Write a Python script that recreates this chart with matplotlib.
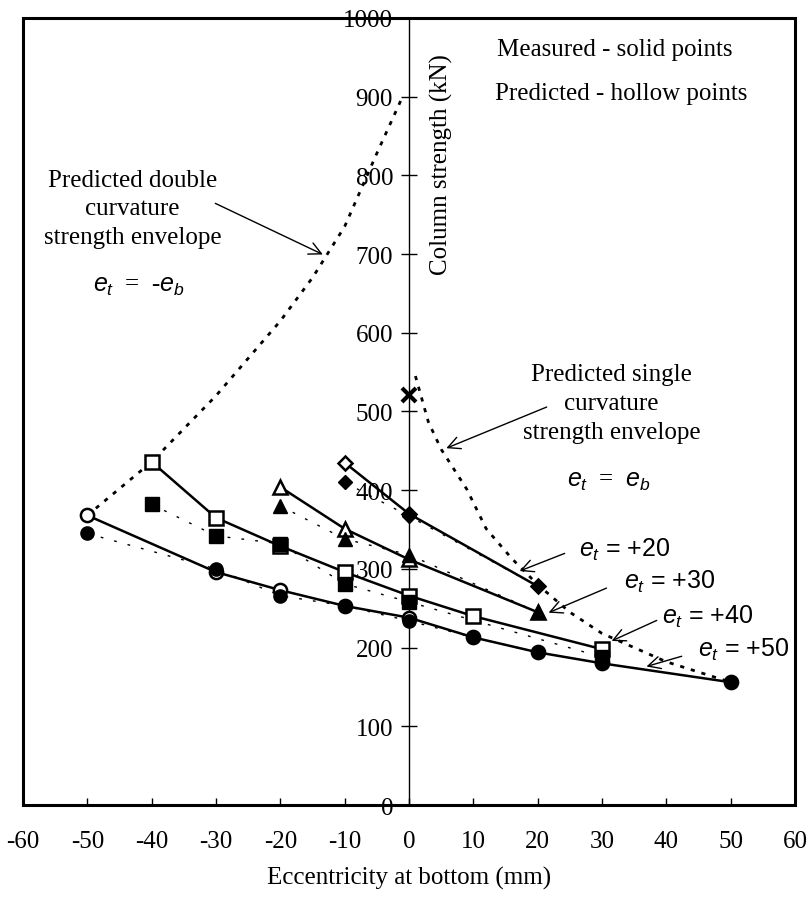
import matplotlib
matplotlib.use("Agg")
import matplotlib.pyplot as plt
from matplotlib.patches import Rectangle

plt.rcParams["font.family"] = ["Liberation Serif", "DejaVu Serif"]
plt.rcParams["mathtext.fontset"] = "custom"
plt.rcParams["mathtext.it"] = "Liberation Sans:italic"
plt.rcParams["mathtext.rm"] = "Liberation Sans"

# e_t = +50 (circles)
c_pred_x = [-50, -30, -20, -10, 0, 10, 20, 30, 50]
c_pred_y = [368, 296, 273, 253, 238, 213, 194, 180, 156]
c_meas_x = [-50, -30, -20, -10, 0, 10, 20, 30, 50]
c_meas_y = [345, 300, 266, 253, 234, 213, 194, 180, 156]

# e_t = +40 (squares)
s_pred_x = [-40, -30, -20, -10, 0, 10, 30]
s_pred_y = [436, 365, 329, 296, 266, 240, 198]
s_meas_x = [-40, -30, -20, -10, 0, 30]
s_meas_y = [382, 342, 332, 281, 258, 188]

# e_t = +30 (triangles)
t_pred_x = [-20, -10, 0, 20]
t_pred_y = [404, 351, 312, 245]
t_meas_x = [-20, -10, 0, 20]
t_meas_y = [380, 338, 318, 245]

# e_t = +20 (diamonds)
d_pred_x = [-10, 0, 20]
d_pred_y = [435, 370, 278]
d_meas_x = [-10, 0, 20]
d_meas_y = [410, 367, 278]

# strength envelopes
dbl_x = [-50, -40, -30, -20, -15, -10, -5, -1]
dbl_y = [368, 436, 520, 615, 670, 735, 828, 900]
sgl_x = [1, 3, 5, 9, 12, 16, 20, 25, 30, 40, 45, 50]
sgl_y = [545, 487, 452, 401, 351, 313, 280, 245, 218, 182, 169, 156]
axial_x = [0]
axial_y = [521]

x_ticks = list(range(-60, 61, 10))
y_ticks = list(range(0, 1001, 100))

fig = plt.figure(figsize=(8.09, 9.04), dpi=100)
ax = fig.add_axes([0.0284, 0.1084, 0.9543, 0.8706])
ax.set_xlim(-60, 60)
ax.set_ylim(0, 1000)

# envelopes
ax.plot(dbl_x, dbl_y, color="black", lw=2, linestyle=(0, (1.5, 2.5)))
ax.plot(sgl_x, sgl_y, color="black", lw=2, linestyle=(0, (1.5, 2.5)))

# measured (dotted)
for xs, ys in [(c_meas_x, c_meas_y), (s_meas_x, s_meas_y),
               (t_meas_x, t_meas_y), (d_meas_x, d_meas_y)]:
    ax.plot(xs, ys, color="black", lw=1, linestyle=(0, (2, 8)))

# predicted (solid)
ms = 9.5
for xs, ys, m in [(c_pred_x, c_pred_y, "o"), (s_pred_x, s_pred_y, "s"),
                  (t_pred_x, t_pred_y, "^"), (d_pred_x, d_pred_y, "D")]:
    ax.plot(xs, ys, color="black", lw=1.8, zorder=3)
    ax.plot(xs, ys, linestyle="none", marker=m, ms=ms if m != "D" else 7,
            mfc="white", mec="black", mew=1.8, zorder=4)

for xs, ys, m in [(c_meas_x, c_meas_y, "o"), (s_meas_x, s_meas_y, "s"),
                  (t_meas_x, t_meas_y, "^"), (d_meas_x, d_meas_y, "D")]:
    ax.plot(xs, ys, linestyle="none", marker=m, ms=ms if m != "D" else 7,
            mfc="black", mec="black", zorder=5)

ax.plot(axial_x, axial_y, linestyle="none", marker="x", ms=10, mew=3,
        color="black", zorder=5)

# axes styling
for side in ["right", "top"]:
    ax.spines[side].set_visible(False)
ax.spines["left"].set_position(("data", 0))
ax.spines["left"].set_linewidth(1)
ax.spines["bottom"].set_linewidth(2)
ax.add_patch(Rectangle((0, 0), 1, 1, transform=ax.transAxes, fill=False,
                       lw=2.2, edgecolor="black", clip_on=False, zorder=6))

ax.set_xticks(x_ticks)
ax.set_xticklabels([str(v) for v in x_ticks])
ax.set_yticks(y_ticks)
ax.set_yticklabels([str(v) for v in y_ticks])
ax.tick_params(axis="x", direction="in", length=5, width=1, pad=18, labelsize=18)
ax.tick_params(axis="y", direction="inout", length=11, width=1, pad=6, labelsize=18)

ax.set_xlabel("Eccentricity at bottom (mm)", fontsize=18, labelpad=10)
ax.text(5, 815, "Column strength (kN)", rotation=90, ha="center", va="center",
        fontsize=18)

# annotations
ax.text(32, 960, "Measured - solid points", ha="center", va="center", fontsize=18)
ax.text(33, 905, "Predicted - hollow points", ha="center", va="center", fontsize=18)

ax.text(-43, 758, "Predicted double\ncurvature\nstrength envelope", ha="center",
        va="center", fontsize=18, linespacing=1.4)
ax.text(-42, 660, r"$e_t$  =  -$e_b$", ha="center", va="center", fontsize=18)
ax.annotate("", xy=(-13, 698), xytext=(-30.5, 766),
            arrowprops=dict(arrowstyle="->", lw=1, color="black", mutation_scale=22))

ax.text(31.5, 511, "Predicted single\ncurvature\nstrength envelope", ha="center",
        va="center", fontsize=18, linespacing=1.4)
ax.text(31, 412, r"$e_t$  =  $e_b$", ha="center", va="center", fontsize=18)
ax.annotate("", xy=(5.4, 452), xytext=(21.8, 507),
            arrowprops=dict(arrowstyle="->", lw=1, color="black", mutation_scale=22))

et_labels = [("+20", 33.5, 325, (16.8, 296), (24.6, 321)),
             ("+30", 40.5, 285, (21.3, 243), (31.1, 277)),
             ("+40", 46.5, 240, (31.1, 207), (38.9, 236)),
             ("+50", 52.0, 198, (36.5, 175), (42.8, 190))]
for txt, tx, ty, head, tail in et_labels:
    ax.text(tx, ty, r"$e_t$ = " + txt, ha="center", va="center", fontsize=18,
            family="Liberation Sans")
    ax.annotate("", xy=head, xytext=tail,
                arrowprops=dict(arrowstyle="->", lw=1, color="black", mutation_scale=22))

fig.savefig("out.png", dpi=100)
